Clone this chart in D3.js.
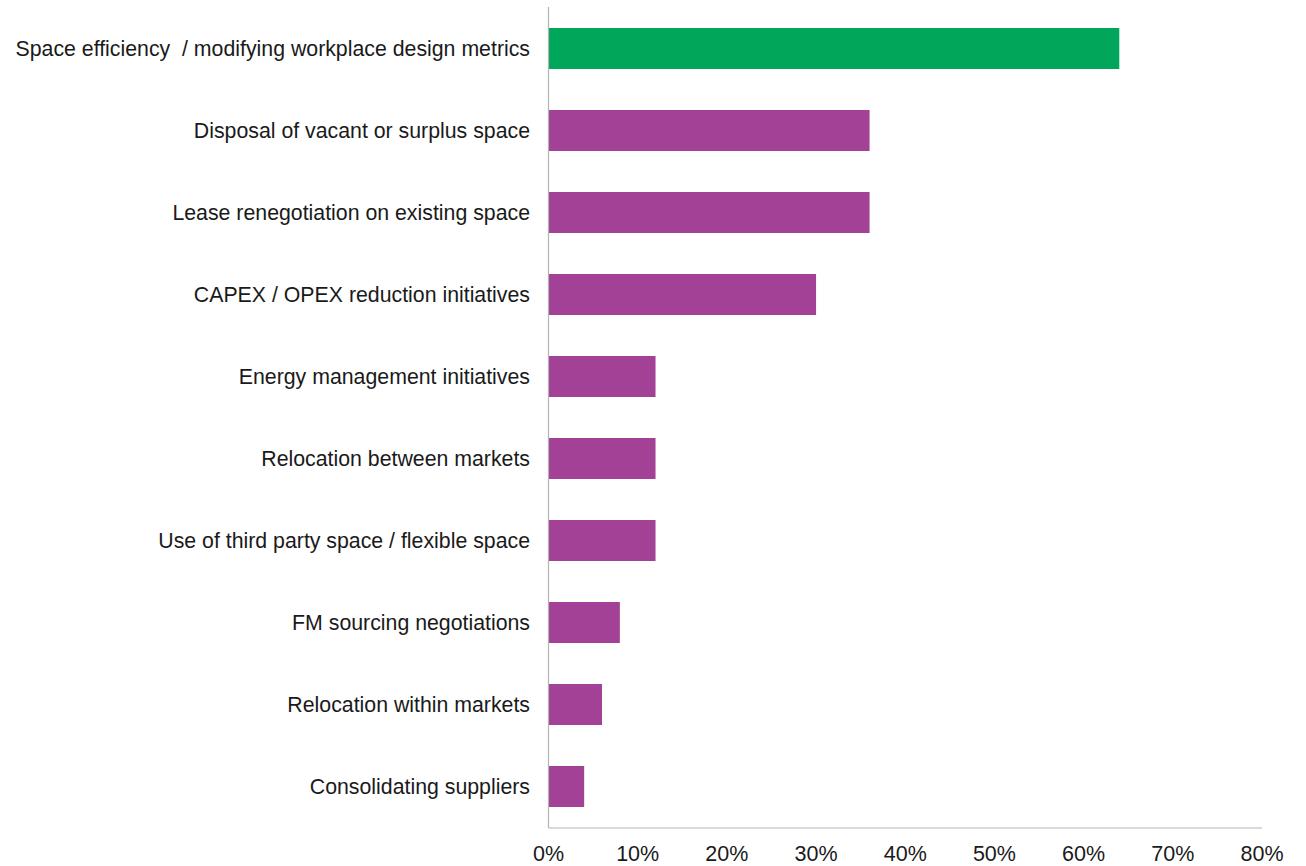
<!DOCTYPE html>
<html><head><meta charset="utf-8">
<script src="https://cdn.jsdelivr.net/npm/d3@7"></script>
<style>body{margin:0;background:#fff}svg{display:block}text{font-family:"Liberation Sans",Arial,sans-serif;fill:#1a1a1a}</style>
</head><body><div id="chart"></div>
<script>
const categories = ["Space efficiency  / modifying workplace design metrics","Disposal of vacant or surplus space","Lease renegotiation on existing space","CAPEX / OPEX reduction initiatives","Energy management initiatives","Relocation between markets","Use of third party space / flexible space","FM sourcing negotiations","Relocation within markets","Consolidating suppliers"];
const values = [64,36,36,30,12,12,12,8,6,4];
const highlight = [true,false,false,false,false,false,false,false,false,false];
const ticks = [0,10,20,30,40,50,60,70,80];

const W=1306,H=866;
const svg=d3.select("#chart").append("svg").attr("width",W).attr("height",H);
const x=d3.scaleLinear().domain([0,80]).range([548.5,1262]);
const y=d3.scaleBand().domain(categories).range([7.5,827.5]).paddingInner(0.5).paddingOuter(0.25);

svg.selectAll("rect.bar").data(values).enter().append("rect")
 .attr("x",x(0)).attr("y",(d,i)=>y(categories[i]))
 .attr("width",d=>x(d)-x(0)).attr("height",y.bandwidth())
 .attr("fill",(d,i)=>highlight[i]?"#00a659":"#a24196");

svg.append("line").attr("x1",x(0)).attr("x2",x(0)).attr("y1",7).attr("y2",828).attr("stroke","#b3b3b3").attr("stroke-width",1.2);
svg.append("line").attr("x1",x(0)).attr("x2",x(80)).attr("y1",828).attr("y2",828).attr("stroke","#b3b3b3").attr("stroke-width",1.2);

svg.selectAll("text.cat").data(categories).enter().append("text")
 .attr("x",530).attr("y",d=>y(d)+y.bandwidth()/2).attr("dy","0.35em")
 .attr("text-anchor","end").style("white-space","pre").attr("font-size",21.3).text(d=>d);

svg.selectAll("text.tick").data(ticks).enter().append("text")
 .attr("x",d=>x(d)).attr("y",861).attr("text-anchor","middle").attr("font-size",21.5).text(d=>d+"%");
</script></body></html>
